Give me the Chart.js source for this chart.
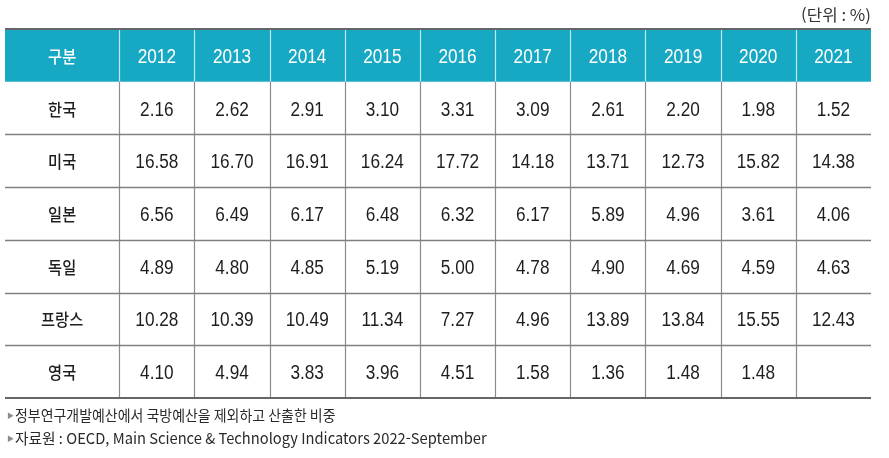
<!DOCTYPE html>
<html lang="ko">
<head>
<meta charset="utf-8">
<script src="https://cdn.jsdelivr.net/npm/chart.js"></script>
<style>
  html, body { margin: 0; padding: 0; background: #fff; }
  canvas { display: block; }
</style>
</head>
<body>
<canvas id="rdTable" width="889" height="458"></canvas>
<script>
// table data
const headerLabel = "구분";
const years = ["2012", "2013", "2014", "2015", "2016", "2017", "2018", "2019", "2020", "2021"];
const countries = ["한국", "미국", "일본", "독일", "프랑스", "영국"];
const korea   = [2.16, 2.62, 2.91, 3.10, 3.31, 3.09, 2.61, 2.20, 1.98, 1.52];
const usa     = [16.58, 16.70, 16.91, 16.24, 17.72, 14.18, 13.71, 12.73, 15.82, 14.38];
const japan   = [6.56, 6.49, 6.17, 6.48, 6.32, 6.17, 5.89, 4.96, 3.61, 4.06];
const germany = [4.89, 4.80, 4.85, 5.19, 5.00, 4.78, 4.90, 4.69, 4.59, 4.63];
const france  = [10.28, 10.39, 10.49, 11.34, 7.27, 4.96, 13.89, 13.84, 15.55, 12.43];
const uk      = [4.10, 4.94, 3.83, 3.96, 4.51, 1.58, 1.36, 1.48, 1.48, null];
const unitNote = "(단위 : %)";
const footnotes = [
    "정부연구개발예산에서 국방예산을 제외하고 산출한 비중",
    "자료원 : OECD, Main Science & Technology Indicators 2022-September"
];

const rows = [korea, usa, japan, germany, france, uk];
const numFont = '"Liberation Sans", Arimo, Arial, sans-serif';
const krFont = '"Noto Sans CJK KR", "Noto Sans", sans-serif';
const headerColor = "#17a9c3";
const firstColMin = -2.02;
const noteSqueeze = [0.93, 0.98];

const datasets = rows.map((vals, i) => ({
    label: countries[i],
    data: vals
        .map((v, j) => ({ x: j, y: countries[i], v: v }))
        .filter(p => p.v !== null),
    pointRadius: 0,
    pointHoverRadius: 0
}));

// text squeezed horizontally (the source uses a condensed face)
function squeezeText(ctx, text, px, py, sx) {
    ctx.save();
    ctx.translate(px, py);
    ctx.scale(sx, 1);
    ctx.fillText(text, 0, 0);
    ctx.restore();
}

const tableDraw = {
    id: "tableDraw",
    beforeDatasetsDraw(chart) {
        const { ctx, chartArea: a, scales: { x, y } } = chart;
        const rowEdge = i => y.getPixelForValue(i - 0.5);
        const colEdge = j => x.getPixelForValue(j - 0.5);
        const nRows = countries.length + 1;
        ctx.save();
        // header band
        ctx.fillStyle = headerColor;
        ctx.fillRect(a.left, rowEdge(0), a.right - a.left, rowEdge(1) - rowEdge(0));

        // vertical lines in header
        ctx.strokeStyle = "#bfe9f0";
        ctx.lineWidth = 1.2;
        for (let j = 0; j < years.length; j++) {
            const px = Math.round(colEdge(j)) + 0.5;
            ctx.beginPath();
            ctx.moveTo(px, rowEdge(0));
            ctx.lineTo(px, rowEdge(1));
            ctx.stroke();
        }
        // vertical lines in body
        ctx.strokeStyle = "#8c8c8c";
        for (let j = 0; j < years.length; j++) {
            const px = Math.round(colEdge(j)) + 0.5;
            ctx.beginPath();
            ctx.moveTo(px, rowEdge(1));
            ctx.lineTo(px, rowEdge(nRows));
            ctx.stroke();
        }
        // horizontal lines
        ctx.strokeStyle = "#808080";
        ctx.lineWidth = 1.4;
        for (let i = 2; i < nRows; i++) {
            const py = Math.round(rowEdge(i)) + 0.5;
            ctx.beginPath();
            ctx.moveTo(a.left, py);
            ctx.lineTo(a.right, py);
            ctx.stroke();
        }
        ctx.strokeStyle = "#666666";
        ctx.lineWidth = 2;
        [0, nRows].forEach(i => {
            const py = Math.round(rowEdge(i));
            ctx.beginPath();
            ctx.moveTo(a.left, py);
            ctx.lineTo(a.right, py);
            ctx.stroke();
        });
        ctx.restore();
    },
    afterDatasetsDraw(chart) {
        const { ctx, chartArea: a, scales: { x, y } } = chart;
        const firstCol = x.getPixelForValue((firstColMin - 0.5) / 2);
        ctx.save();
        ctx.textAlign = "center";
        ctx.textBaseline = "middle";

        // header
        const hy = y.getPixelForValue(0) + 1;
        ctx.fillStyle = "#ffffff";
        ctx.font = "500 17px " + krFont;
        squeezeText(ctx, headerLabel, firstCol, hy, 0.9);
        ctx.font = "20px " + numFont;
        years.forEach((yr, j) => squeezeText(ctx, yr, x.getPixelForValue(j), hy + 1, 0.86));

        // row labels
        ctx.fillStyle = "#1e1e1e";
        ctx.font = "500 17px " + krFont;
        countries.forEach((c, i) => squeezeText(ctx, c, firstCol, y.getPixelForValue(c) + 1, 0.9));

        // values
        ctx.font = "20px " + numFont;
        chart.data.datasets.forEach((ds, i) => {
            const meta = chart.getDatasetMeta(i);
            meta.data.forEach((pt, k) => {
                squeezeText(ctx, ds.data[k].v.toFixed(2), pt.x, pt.y + 2, 0.86);
            });
        });

        // unit note
        ctx.textAlign = "right";
        ctx.font = "16px " + krFont;
        ctx.fillStyle = "#333333";
        squeezeText(ctx, unitNote, a.right, 15, 1.05);

        // footnotes
        ctx.textAlign = "left";
        footnotes.forEach((t, i) => {
            const fy = a.bottom + 17 + i * 23;
            ctx.fillStyle = "#8a8a8a";
            ctx.font = "7px " + krFont;
            ctx.fillText("▶", a.left + 2, fy);
            ctx.fillStyle = "#2a2a2a";
            ctx.font = "15px " + krFont;
            squeezeText(ctx, t, a.left + 10, fy, noteSqueeze[i]);
        });
        ctx.restore();
    }
};

new Chart(document.getElementById("rdTable").getContext("2d"), {
    type: "scatter",
    data: { datasets: datasets },
    options: {
        responsive: false,
        animation: false,
        events: [],
        layout: { padding: { left: 5, top: 29, right: 18, bottom: 60 } },
        scales: {
            x: { type: "linear", min: firstColMin, max: years.length - 0.5, display: false },
            y: { type: "category", labels: [headerLabel].concat(countries), offset: true, display: false }
        },
        plugins: {
            legend: { display: false },
            tooltip: { enabled: false }
        }
    },
    plugins: [tableDraw]
});
</script>
</body>
</html>
